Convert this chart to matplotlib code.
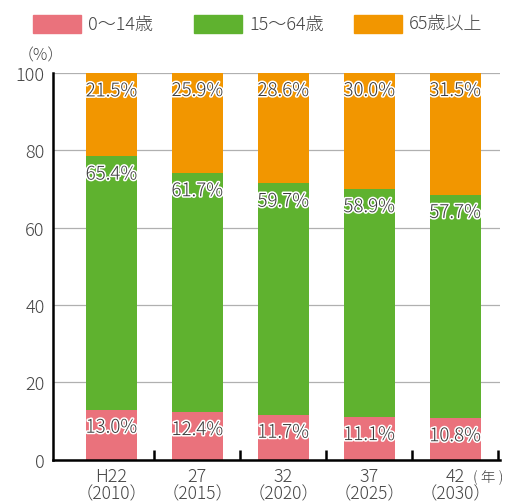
import matplotlib.pyplot as plt
import matplotlib.patheffects as pe
import matplotlib.transforms as mtransforms
from matplotlib.patches import Rectangle
import numpy as np

plt.rcParams['font.family'] = ['Noto Sans CJK JP', 'DejaVu Sans']
plt.rcParams['font.weight'] = 'light'

CATEGORIES = ['H22', '27', '32', '37', '42']
YEARS = ['（2010）', '（2015）', '（2020）', '（2025）', '（2030）']
CHILD = [13.0, 12.4, 11.7, 11.1, 10.8]
WORKING = [65.4, 61.7, 59.7, 58.9, 57.7]
ELDERLY = [21.5, 25.9, 28.6, 30.0, 31.5]

SERIES_LABELS = ['0〜14歳', '15〜64歳', '65歳以上']
COLORS = ['#ea727c', '#5fb22f', '#f29600']

TEXT_COLOR = '#444444'
LABEL_OFFSET = 4.7

W, H = 509, 502
# legend key positions in pixels (left edge of swatch)
LEGEND_X = [33, 194, 354]


def main():
    fig = plt.figure(figsize=(W / 100, H / 100), dpi=100)
    ax = fig.add_axes([0.104, 0.082, 0.878, 0.771])

    x = np.arange(len(CATEGORIES))
    width = 0.59
    bottom = np.zeros(len(CATEGORIES))
    outline = [pe.withStroke(linewidth=2.2, foreground='white')]

    for values, color, label in zip((CHILD, WORKING, ELDERLY), COLORS, SERIES_LABELS):
        values = np.asarray(values)
        tops = np.minimum(bottom + values, 100)
        ax.bar(x, tops - bottom, width, bottom=bottom, color=color,
               label=label, zorder=2)
        for xi, top, v in zip(x, tops, values):
            ax.text(xi, top - LABEL_OFFSET, '{:.1f}%'.format(v),
                    ha='center', va='center', fontsize=13.5,
                    color='#3a3a3a', path_effects=outline, zorder=3)
        bottom = tops

    ax.set_xlim(-0.68, 4.52)
    ax.set_ylim(0, 100)
    ax.set_yticks([0, 20, 40, 60, 80, 100])
    ax.yaxis.grid(True, color='#b0b0b0', linewidth=0.9, zorder=0)
    ax.set_axisbelow(True)
    ax.tick_params(axis='y', length=0, labelsize=13, labelcolor=TEXT_COLOR, pad=6)

    # category labels sit between the tick marks
    ax.set_xticks(x + 0.5)
    ax.set_xticklabels([])
    ax.set_xticks(x, minor=True)
    ax.set_xticklabels(CATEGORIES, minor=True, fontsize=13, color=TEXT_COLOR)
    ax.tick_params(axis='x', which='major', direction='in', length=7, width=1.8)
    ax.tick_params(axis='x', which='minor', length=0, pad=5)

    # western year under each category
    trans = mtransforms.blended_transform_factory(ax.transData, fig.transFigure)
    for xi, year in zip(x, YEARS):
        ax.text(xi, 1 - 494 / H, year, transform=trans, fontsize=12.5,
                color=TEXT_COLOR, ha='center', va='center', clip_on=False)

    for side in ('top', 'right'):
        ax.spines[side].set_visible(False)
    for side in ('left', 'bottom'):
        ax.spines[side].set_linewidth(1.8)

    fig.text(0.035, 0.888, '（%）', fontsize=11.5, color=TEXT_COLOR, ha='left', va='center')
    fig.text(473 / W, 1 - 478 / H, '( 年 )', fontsize=10.5, color=TEXT_COLOR,
             ha='left', va='center')

    # legend row across the top
    for lx, color, label in zip(LEGEND_X, COLORS, SERIES_LABELS):
        fig.patches.append(Rectangle((lx / W, 1 - 34 / H), 48 / W, 18 / H,
                                     transform=fig.transFigure, color=color))
        fig.text((lx + 55) / W, 1 - 25 / H, label, fontsize=13, color=TEXT_COLOR,
                 ha='left', va='center')

    fig.savefig('out.png', dpi=100)


if __name__ == '__main__':
    main()
